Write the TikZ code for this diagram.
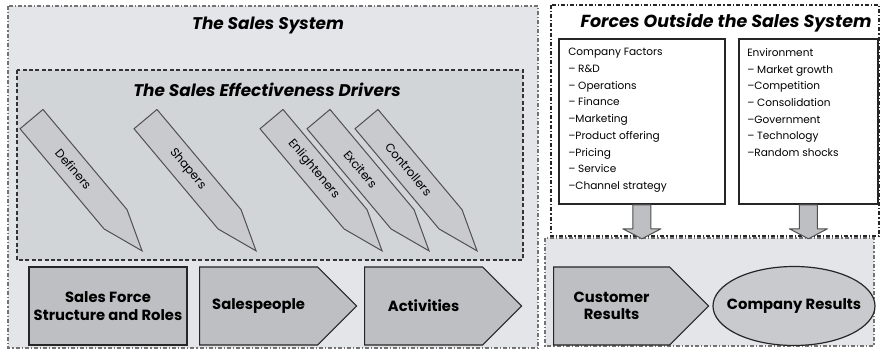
\documentclass[tikz,border=0pt]{standalone}
\usepackage{fontspec}
\setmainfont{Poppins}
\usetikzlibrary{positioning,shapes.symbols,shapes.geometric}
\definecolor{sysgray}{RGB}{227,229,232}
\definecolor{drvgray}{RGB}{210,213,216}
\definecolor{pencilgray}{RGB}{201,202,205}
\definecolor{stagegray}{RGB}{190,191,194}
\definecolor{edgegray}{RGB}{80,80,80}

\tikzset{
  sysframe/.style={draw=black!55, line width=0.35mm,
    dash pattern=on 1mm off 0.5mm on 0.3mm off 0.5mm},
  outframe/.style={draw=black!85, line width=0.3mm,
    dash pattern=on 1mm off 0.5mm on 0.3mm off 0.5mm},
  drvframe/.style={draw=black!80, line width=0.3mm, dash pattern=on 1mm off 0.6mm},
  boxtitle/.style={font=\bfseries\itshape\fontsize{12}{14}\selectfont},
  pencil/.style={signal, signal to=east, signal pointer angle=40,
    draw=edgegray, fill=pencilgray, line width=0.25mm, rotate=-50,
    minimum height=7.5mm, minimum width=43mm, inner sep=0pt,
    font=\fontsize{8.5}{9}\selectfont},
  stage/.style={draw=black!85, line width=0.3mm, fill=stagegray,
    minimum height=19.5mm, align=center,
    font=\bfseries\fontsize{10.5}{12.5}\selectfont},
  stagearrow/.style={stage, signal, signal to=east, signal pointer angle=90,
    minimum width=39.25mm},
  listbox/.style={draw=black!85, line width=0.45mm, fill=white,
    minimum height=41.25mm, anchor=north west},
  listtext/.style={align=left, inner sep=0pt, anchor=north west,
    font=\fontsize{7.5}{11.9}\selectfont},
  blockarrow/.style={draw=edgegray, fill=stagegray, line width=0.25mm,
    line join=round}
}

\begin{document}
\begin{tikzpicture}[x=0.25mm,y=-0.25mm]
\useasboundingbox (0,0) rectangle (880,353);

% sales system and the forces around it
\draw[sysframe, fill=sysgray] (8,6) rectangle (538,348);
\draw[sysframe, fill=sysgray] (545,238) rectangle (874,346);
\draw[outframe, fill=white] (551,5) rectangle (879,236);

\node[boxtitle] (systitle) at (268,25) {The Sales System};
\draw[drvframe, fill=drvgray] (17,70) rectangle (523,260);
\node[boxtitle] (drvtitle) at (267,90) {The Sales Effectiveness Drivers};

\foreach \tip/\nm/\lbl in {143/def/Definers, 257/shp/Shapers,
    383/enl/Enlighteners, 430/exc/Exciters, 478/ctl/Controllers} {
    \node[pencil, anchor=east] (\nm) at (\tip,252) {\lbl};
}

% bottom row
\node[stage, minimum width=39.5mm] (sfs) at (108,306) {Sales Force\\Structure and Roles};
\node[stagearrow, anchor=west] (sp) at (199,306) {Salespeople};
\node[stagearrow, anchor=west] (act) at (364,306) {Activities};
\node[stagearrow, anchor=west, minimum width=38.75mm] (cres) at (553,306) {Customer\\Results};
\node[stage, ellipse, fill=pencilgray, minimum width=40.5mm, minimum height=19.75mm]
    (compres) at (794,306) {\makebox[0pt]{Company Results}};

% outside forces
\node[boxtitle, font=\bfseries\itshape\fontsize{12.4}{15}\selectfont]
    (outtitle) at (726,23) {Forces Outside the Sales System};
\node[listbox, minimum width=41.5mm] (cf) at (558,38) {};
\node[listtext] (cflist) at (568,48) {Company Factors\\
  -- R\&D\\ -- Operations\\ -- Finance\\ --Marketing\\ --Product offering\\
  --Pricing\\ -- Service\\ --Channel strategy};
\node[listbox, minimum width=34.75mm] (env) at (738,38) {};
\node[listtext] (envlist) at (747,48) {Environment\\
  -- Market growth\\ --Competition\\ -- Consolidation\\ --Government\\
  -- Technology\\ --Random shocks};

% block arrows down into the results
\foreach \src in {cf,env} {
    \draw[blockarrow, shift={(\src.south)}] (-9,0) -- (9,0) -- (9,24) -- (19,24)
        -- (0,34) -- (-19,24) -- (-9,24) -- cycle;
}
\end{tikzpicture}
\end{document}
